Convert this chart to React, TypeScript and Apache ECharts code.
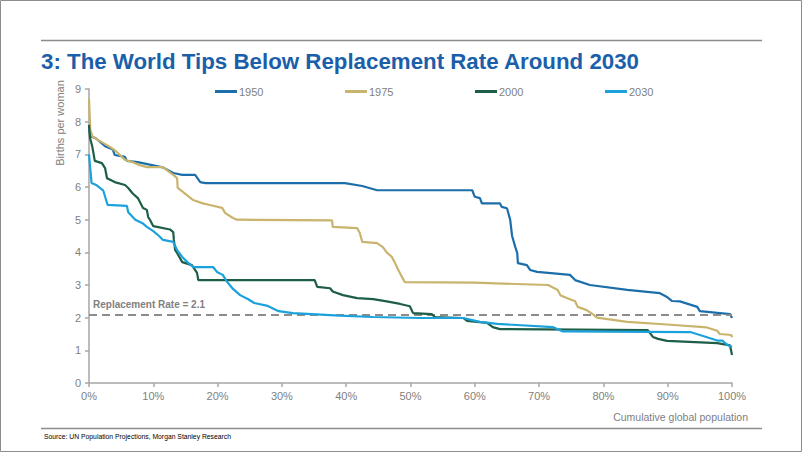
import React, { useEffect, useRef } from "react";
import * as echarts from "echarts";

const seriesNames = ["1950", "1975", "2000", "2030"];
const seriesColors = ["#1C6EAB", "#C9B46E", "#1E5E47", "#1BA2DC"];

const pct1950 = [0, 0.2, 1, 2.5, 3.7, 4.0, 5.6, 5.9, 7.6, 9.8, 11.5, 13.1, 14.5, 16.5, 17.3, 18.1, 39.8, 42.5, 44.8, 59.6, 60.0, 60.8, 61.1, 63.9, 64.2, 65.0, 65.5, 65.8, 66.3, 66.6, 66.7, 68.1, 68.6, 69.7, 74.8, 75.6, 77.9, 83.7, 88.8, 89.9, 90.7, 91.9, 94.6, 95.0, 99.7, 100];
const tfr1950 = [7.9, 7.55, 7.5, 7.25, 7.15, 6.98, 6.92, 6.8, 6.76, 6.67, 6.6, 6.43, 6.37, 6.37, 6.15, 6.12, 6.12, 6.03, 5.9, 5.9, 5.7, 5.66, 5.5, 5.5, 5.39, 5.35, 5.0, 4.5, 4.16, 3.98, 3.67, 3.61, 3.46, 3.4, 3.31, 3.15, 3.0, 2.85, 2.75, 2.63, 2.51, 2.5, 2.33, 2.2, 2.11, 1.99];

const pct1975 = [0, 0.2, 0.6, 1.4, 2.2, 3.3, 4.0, 4.8, 5.6, 6.8, 7.9, 9.0, 11.4, 12.1, 13.1, 13.7, 13.8, 14.6, 16.2, 17.7, 18.8, 20.7, 21.2, 22.4, 23.0, 37.8, 37.9, 41.7, 42.1, 42.5, 44.8, 45.7, 46.3, 47.1, 47.6, 48.1, 48.7, 49.1, 60, 71.4, 72.9, 73.3, 74.3, 75.6, 76.0, 77.4, 78.4, 79.0, 83.7, 89.9, 96.1, 97.7, 98.1, 99.9, 100];
const tfr1975 = [8.7, 7.75, 7.53, 7.44, 7.35, 7.22, 7.13, 6.98, 6.83, 6.76, 6.67, 6.61, 6.61, 6.52, 6.37, 6.27, 5.97, 5.85, 5.6, 5.5, 5.45, 5.36, 5.2, 5.05, 5.0, 4.98, 4.78, 4.74, 4.6, 4.32, 4.28, 4.16, 4.0, 3.86, 3.67, 3.46, 3.24, 3.09, 3.07, 3.0, 2.85, 2.69, 2.6, 2.5, 2.33, 2.23, 2.1, 2.0, 1.87, 1.79, 1.7, 1.6, 1.5, 1.47, 1.4];

const pct2000 = [0, 0.16, 0.5, 0.9, 2.0, 2.5, 2.8, 4.0, 5.6, 6.1, 6.8, 7.6, 8.4, 9.0, 9.2, 9.5, 10.0, 12.6, 13.1, 13.2, 13.4, 13.7, 14.5, 16.0, 16.8, 17.0, 35.1, 35.5, 37.5, 37.9, 39.5, 41.7, 44.2, 46.3, 48.4, 49.9, 50.4, 53.3, 53.8, 58.2, 58.8, 61.9, 62.8, 63.9, 86.9, 87.7, 88.5, 89.9, 97.7, 99.7, 100];
const tfr2000 = [7.9, 7.5, 7.25, 6.8, 6.73, 6.58, 6.27, 6.15, 6.06, 5.97, 5.8, 5.66, 5.36, 5.3, 5.08, 4.99, 4.8, 4.7, 4.62, 4.38, 4.07, 3.98, 3.7, 3.61, 3.37, 3.15, 3.15, 2.94, 2.9, 2.8, 2.69, 2.6, 2.57, 2.5, 2.42, 2.35, 2.14, 2.11, 2.02, 1.99, 1.9, 1.84, 1.71, 1.65, 1.62, 1.41, 1.35, 1.29, 1.22, 1.15, 0.86];

const pct2030 = [0, 0.4, 1.2, 2.2, 2.9, 5.9, 6.1, 7.2, 8.4, 9.0, 10.0, 10.9, 11.5, 13.1, 13.7, 14.5, 15.3, 16.2, 19.3, 19.9, 20.8, 21.5, 22.4, 23.5, 24.7, 25.7, 27.8, 29.5, 31.7, 39.0, 44.2, 51.5, 58.2, 60.8, 63.5, 72.2, 73.7, 93.5, 95.5, 97.7, 98.5, 99.3, 100];
const tfr2030 = [7.0, 6.12, 6.05, 5.9, 5.45, 5.42, 5.23, 5.0, 4.88, 4.78, 4.65, 4.5, 4.38, 4.32, 4.07, 3.86, 3.7, 3.55, 3.55, 3.4, 3.31, 3.09, 2.88, 2.69, 2.57, 2.45, 2.36, 2.2, 2.14, 2.06, 2.02, 1.99, 1.99, 1.87, 1.81, 1.71, 1.58, 1.56, 1.44, 1.3, 1.3, 1.16, 1.1];

const replacementRate = 2.1;

const pctArrays = [pct1950, pct1975, pct2000, pct2030];
const tfrArrays = [tfr1950, tfr1975, tfr2000, tfr2030];

const FONT = "Liberation Sans, Arial, sans-serif";
const NARROW = "Liberation Sans Narrow, Arial Narrow, Liberation Sans, sans-serif";

export default function App() {
  const ref = useRef<HTMLDivElement>(null);
  useEffect(() => {
    const chart = echarts.init(ref.current!, null, { renderer: "svg" });
    const series: any[] = seriesNames.map((name, i) => ({
      name,
      type: "line",
      symbol: "none",
      data: pctArrays[i].map((p, j) => [p, tfrArrays[i][j]]),
      lineStyle: { color: seriesColors[i], width: 2.2 },
      itemStyle: { color: seriesColors[i] },
      z: 3 + i,
    }));
    series.push({
      name: "replacement",
      type: "line",
      data: [],
      markLine: {
        silent: true,
        symbol: ["none", "none"],
        lineStyle: { color: "#8c8c8c", width: 2, type: [8, 5] },
        label: {
          show: true,
          position: "insideStartTop",
          formatter: "Replacement Rate = " + replacementRate,
          color: "#808080",
          fontWeight: "bold",
          fontSize: 10,
          fontFamily: FONT,
          distance: [4, 5],
        },
        data: [{ yAxis: replacementRate }],
      },
      z: 2,
    });
    chart.setOption({
      animation: false,
      backgroundColor: "#fff",
      grid: { left: 89, right: 70, top: 89, bottom: 69 },
      legend: seriesNames.map((n, i) => ({
        data: [n],
        left: 215 + 130 * i,
        top: 86,
        padding: 0,
        icon: "rect",
        itemWidth: 22,
        itemHeight: 3,
        textStyle: { color: "#7f7f7f", fontSize: 11, fontFamily: FONT, padding: [0, 0, 0, -3] },
        selectedMode: false,
      })),
      xAxis: {
        type: "value",
        min: 0,
        max: 100,
        interval: 10,
        axisLine: { show: true, lineStyle: { color: "#a6a6a6", width: 1.5 } },
        axisTick: { show: true, length: 4, lineStyle: { color: "#a6a6a6", width: 1.5 } },
        axisLabel: { color: "#808080", fontSize: 11, fontFamily: FONT, margin: 7, formatter: "{value}%" },
        splitLine: { show: false },
      },
      yAxis: {
        type: "value",
        min: 0,
        max: 9,
        interval: 1,
        axisLine: { show: true, lineStyle: { color: "#a6a6a6", width: 1.5 } },
        axisTick: { show: true, length: 4, lineStyle: { color: "#a6a6a6", width: 1.5 } },
        axisLabel: { color: "#808080", fontSize: 11, fontFamily: FONT, margin: 8 },
        splitLine: { show: false },
      },
      graphic: [
        { type: "rect", shape: { x: 0.5, y: 0.5, width: 801, height: 451 }, style: { fill: "none", stroke: "#8c8c8c", lineWidth: 1 }, silent: true },
        { type: "line", shape: { x1: 41, y1: 40.5, x2: 762, y2: 40.5 }, style: { stroke: "#8c8c8c", lineWidth: 1.5 } },
        { type: "line", shape: { x1: 41, y1: 428.5, x2: 762, y2: 428.5 }, style: { stroke: "#8c8c8c", lineWidth: 1.5 } },
        {
          type: "text", x: 41, y: 61,
          style: { text: "3: The World Tips Below Replacement Rate Around 2030", fill: "#1B5FAA", font: "bold 22.3px " + NARROW, textAlign: "left", textVerticalAlign: "middle" },
        },
        {
          type: "text", x: 60, y: 123, rotation: Math.PI / 2,
          style: { text: "Births per woman", fill: "#808080", font: "11px " + FONT, textAlign: "center", textVerticalAlign: "middle" },
        },
        {
          type: "text", x: 748, y: 417,
          style: { text: "Cumulative global population", fill: "#808080", font: "10.5px " + FONT, textAlign: "right", textVerticalAlign: "middle" },
        },
        {
          type: "text", x: 44, y: 436,
          style: { text: "Source: UN Population Projections, Morgan Stanley Research", fill: "#000", font: "6.8px " + NARROW, textAlign: "left", textVerticalAlign: "middle" },
        },
      ],
      series,
    });
    return () => chart.dispose();
  }, []);
  return <div ref={ref} style={{ position: "fixed", left: 0, top: 0, width: 802, height: 452, background: "#fff" }} />;
}
